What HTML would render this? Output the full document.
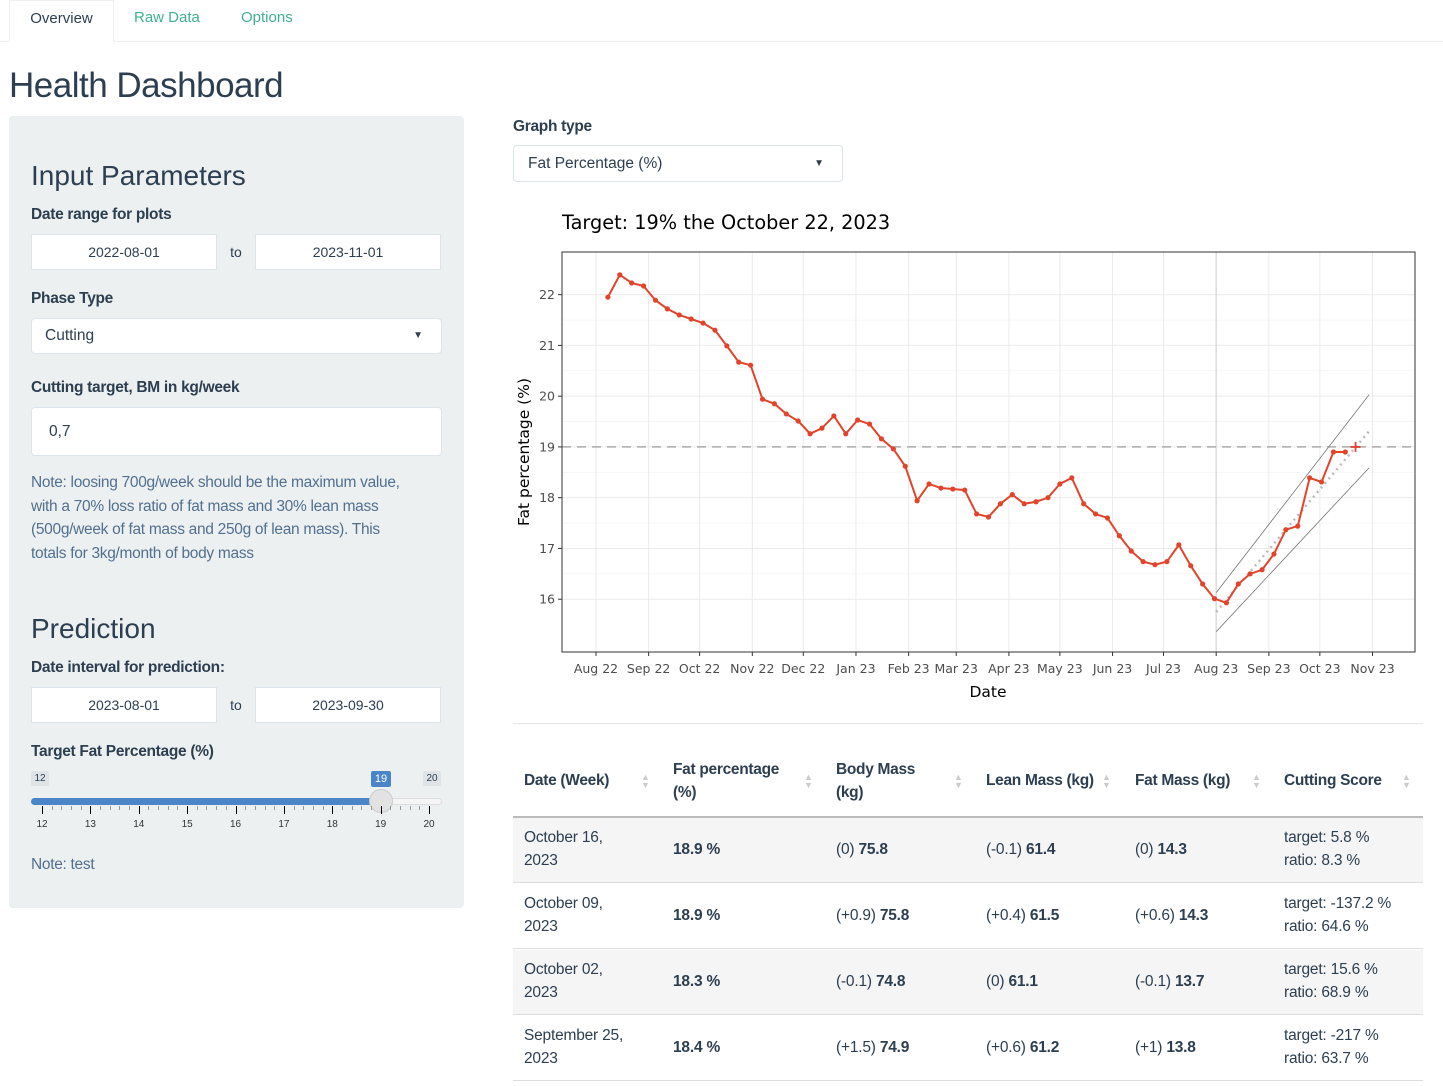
<!DOCTYPE html>
<html><head><meta charset="utf-8"><style>
*{box-sizing:border-box;margin:0;padding:0}
body{width:1443px;height:1086px;overflow:hidden;background:#fff;font-family:"Liberation Sans",sans-serif;color:#2c3e50;position:relative}
.a{position:absolute}
.tab{position:absolute;top:0;height:42px;line-height:36px;font-size:15px;color:#3fb28f}
.lbl{position:absolute;font-weight:bold;font-size:15.5px;color:#2c3e50;letter-spacing:-0.3px}
.inp{position:absolute;background:#fff;border:1px solid #dce4ec;font-size:14px;text-align:center;color:#2c3e50}
.note{position:absolute;font-size:15.5px;color:#52708f;line-height:23.6px;letter-spacing:-0.3px;white-space:nowrap}
.h3{position:absolute;font-size:28px;color:#2c3e50}
.th{position:absolute;font-weight:bold;font-size:15.5px;line-height:23px;letter-spacing:-0.3px}
.td{position:absolute;font-size:15.5px;line-height:23px;letter-spacing:-0.2px}
.sort{position:absolute;color:#ccc;font-size:9px;line-height:8px}
</style></head><body>
<div class="a" style="left:0;top:41px;width:1443px;height:1px;background:#ecf0f1"></div>
<div class="tab" style="left:9px;width:105px;height:42px;background:#fff;border:1px solid #ecf0f1;border-bottom:none;color:#2c3e50;text-align:center">Overview</div>
<div class="tab" style="left:134px">Raw Data</div>
<div class="tab" style="left:241px">Options</div>
<div class="a" style="left:9px;top:66px;font-size:35px;letter-spacing:-0.5px">Health Dashboard</div>

<div class="a" style="left:9px;top:116px;width:455px;height:792px;background:#ecf0f1;border-radius:4px"></div>
<div class="h3" style="left:31px;top:160px">Input Parameters</div>
<div class="lbl" style="left:31px;top:206px">Date range for plots</div>
<div class="inp" style="left:31px;top:234px;width:186px;height:36px;line-height:34px">2022-08-01</div>
<div class="a" style="left:217px;top:234px;width:38px;height:36px;line-height:36px;text-align:center;font-size:14px;background:#ecf0f1">to</div>
<div class="inp" style="left:255px;top:234px;width:186px;height:36px;line-height:34px">2023-11-01</div>
<div class="lbl" style="left:31px;top:290px">Phase Type</div>
<div class="inp" style="left:31px;top:318px;width:411px;height:36px;line-height:34px;text-align:left;padding-left:13px;font-size:15.5px;border-radius:4px">Cutting<span style="position:absolute;right:18px;top:0;font-size:10px">▼</span></div>
<div class="lbl" style="left:31px;top:379px">Cutting target, BM in kg/week</div>
<div class="inp" style="left:31px;top:407px;width:411px;height:49px;line-height:47px;text-align:left;padding-left:17px;font-size:15.5px;border-radius:4px">0,7</div>
<div class="note" style="left:31px;top:471px">Note: loosing 700g/week should be the maximum value,<br>with a 70% loss ratio of fat mass and 30% lean mass<br>(500g/week of fat mass and 250g of lean mass). This<br>totals for 3kg/month of body mass</div>
<div class="h3" style="left:31px;top:613px">Prediction</div>
<div class="lbl" style="left:31px;top:659px">Date interval for prediction:</div>
<div class="inp" style="left:31px;top:687px;width:186px;height:36px;line-height:34px">2023-08-01</div>
<div class="a" style="left:217px;top:687px;width:38px;height:36px;line-height:36px;text-align:center;font-size:14px">to</div>
<div class="inp" style="left:255px;top:687px;width:186px;height:36px;line-height:34px">2023-09-30</div>
<div class="lbl" style="left:31px;top:743px">Target Fat Percentage (%)</div>
<div class="a" style="left:31px;top:771px;width:18px;height:15px;background:#dfe3e6;font-size:10px;text-align:center;line-height:15px;border-radius:2px">12</div>
<div class="a" style="left:423px;top:771px;width:18px;height:15px;background:#dfe3e6;font-size:10px;text-align:center;line-height:15px;border-radius:2px">20</div>
<div class="a" style="left:371px;top:771px;width:20px;height:16px;background:#4a86c7;color:#fff;font-size:11px;text-align:center;line-height:16px;border-radius:2px">19</div>
<div class="a" style="left:31px;top:798px;width:411px;height:7px;background:#f5f5f5;border:1px solid #ddd;border-radius:4px"></div>
<div class="a" style="left:31px;top:798px;width:350px;height:7px;background:#4a86c7;border-radius:4px 0 0 4px"></div>
<div class="a" style="left:369px;top:789px;width:24px;height:24px;background:#e2e2e2;border:1px solid #ccc;border-radius:50%"></div>
<div id="sticks"></div>
<div class="note" style="left:31px;top:853px">Note: test</div>

<div class="lbl" style="left:513px;top:118px">Graph type</div>
<div class="inp" style="left:513px;top:145px;width:330px;height:37px;line-height:35px;text-align:left;padding-left:14px;font-size:15.5px;border-radius:4px">Fat Percentage (%)<span style="position:absolute;right:18px;top:0;font-size:10px">▼</span></div>

<svg id="chart" class="a" style="left:0;top:0" width="1443" height="720"></svg>

<div class="a" style="left:513px;top:723px;width:910px;height:1px;background:#e6e6e6"></div>
<div id="table"></div>

<script>
const dates=["2022-08-08"];
const fatPct=[21.95,22.39,22.23,22.17,21.89,21.72,21.60,21.52,21.44,21.30,20.99,20.67,20.61,19.94,19.85,19.65,19.51,19.26,19.37,19.61,19.26,19.53,19.45,19.16,18.96,18.62,17.94,18.27,18.19,18.17,18.15,17.68,17.62,17.88,18.06,17.88,17.92,18.00,18.27,18.39,17.88,17.68,17.60,17.25,16.95,16.74,16.68,16.74,17.07,16.66,16.30,16.01,15.93,16.30,16.50,16.58,16.89,17.37,17.44,18.39,18.31,18.90,18.90];
const targetValue=19;
const targetDate="2023-10-22";
const trendDates=["2023-08-01","2023-10-30"];
const trendUpper=[16.13,20.03];
const trendMid=[15.75,19.31];
const trendLower=[15.36,18.59];
const yTicks=[16,17,18,19,20,21,22];
const xTickDates=["2022-08-01","2022-09-01","2022-10-01","2022-11-01","2022-12-01","2023-01-01","2023-02-01","2023-03-01","2023-04-01","2023-05-01","2023-06-01","2023-07-01","2023-08-01","2023-09-01","2023-10-01","2023-11-01"];
const xTickLabels=["Aug 22","Sep 22","Oct 22","Nov 22","Dec 22","Jan 23","Feb 23","Mar 23","Apr 23","May 23","Jun 23","Jul 23","Aug 23","Sep 23","Oct 23","Nov 23"];

const NS="http://www.w3.org/2000/svg";
const svg=document.getElementById('chart');
const P={l:562,r:1415,t:252,b:652};
const D0=Date.parse("2022-07-12"),D1=Date.parse("2023-11-26");
const Y0=14.96,Y1=22.84;
const xs=d=>P.l+(Date.parse(d)-D0)/(D1-D0)*(P.r-P.l);
const ys=v=>P.b-(v-Y0)/(Y1-Y0)*(P.b-P.t);
function el(t,a,txt){const e=document.createElementNS(NS,t);for(const k in a)e.setAttribute(k,a[k]);if(txt!=null)e.textContent=txt;svg.appendChild(e);return e;}
const allDates=fatPct.map((_,i)=>new Date(Date.parse(dates[0])+i*7*864e5).toISOString().slice(0,10));

let e=el('rect',{x:P.l,y:P.t,width:P.r-P.l,height:P.b-P.t,fill:'#fff'});

for(let i=0;i<yTicks.length-1;i++){const v=(yTicks[i]+yTicks[i+1])/2;el('line',{x1:P.l,x2:P.r,y1:ys(v),y2:ys(v),stroke:'#f2f2f2','stroke-width':0.6});}
yTicks.forEach(v=>{e=el('line',{x1:P.l,x2:P.r,y1:ys(v),y2:ys(v),stroke:'#ebebeb','stroke-width':1});

el('line',{x1:P.l-4,x2:P.l,y1:ys(v),y2:ys(v),stroke:'#333'});
e=el('text',{x:P.l-7,y:ys(v)+4.5,'text-anchor':'end','font-size':12.5,fill:'#4d4d4d','font-family':'DejaVu Sans, sans-serif'},v);
});
xTickDates.forEach((d,i)=>{const x=xs(d);e=el('line',{x1:x,x2:x,y1:P.t,y2:P.b,stroke:'#ebebeb'});

el('line',{x1:x,x2:x,y1:P.b,y2:P.b+4,stroke:'#333'});
e=el('text',{x:x,y:P.b+21,'text-anchor':'middle','font-size':12.5,fill:'#4d4d4d','font-family':'DejaVu Sans, sans-serif'},xTickLabels[i]);
});
e=el('line',{x1:xs("2023-08-01"),x2:xs("2023-08-01"),y1:P.t,y2:P.b,stroke:'#dcdcdc','stroke-width':1.5});

e=el('line',{x1:P.l,x2:P.r,y1:ys(targetValue),y2:ys(targetValue),stroke:'#aaa','stroke-width':1.5,'stroke-dasharray':'9,6'});

[[trendUpper,'trend-upper'],[trendLower,'trend-lower']].forEach(([arr,n])=>{e=el('line',{x1:xs(trendDates[0]),x2:xs(trendDates[1]),y1:ys(arr[0]),y2:ys(arr[1]),stroke:'#777','stroke-width':0.8});
});
e=el('line',{x1:xs(trendDates[0]),x2:xs(trendDates[1]),y1:ys(trendMid[0]),y2:ys(trendMid[1]),stroke:'#bbb','stroke-width':2.5,'stroke-dasharray':'2,4'});

e=el('polyline',{points:fatPct.map((v,i)=>xs(allDates[i])+','+ys(v)).join(' '),fill:'none',stroke:'#e2442b','stroke-width':2});

fatPct.forEach((v,i)=>{e=el('circle',{cx:xs(allDates[i]),cy:ys(v),r:2.6,fill:'#e2442b'});
});
const tx=xs(targetDate),ty=ys(targetValue);
e=el('path',{d:`M${tx-5},${ty}H${tx+5}M${tx},${ty-5}V${ty+5}`,stroke:'#e2442b','stroke-width':1.8});

e=el('rect',{x:P.l,y:P.t,width:P.r-P.l,height:P.b-P.t,fill:'none',stroke:'#333','stroke-width':1});

e=el('text',{x:562,y:229,'font-size':19.3,fill:'#000','font-family':'DejaVu Sans, sans-serif'},'Target: 19% the October 22, 2023');

e=el('text',{x:988,y:697,'text-anchor':'middle','font-size':15.5,fill:'#000','font-family':'DejaVu Sans, sans-serif'},'Date');

e=el('text',{x:0,y:0,transform:`translate(529,452) rotate(-90)`,'text-anchor':'middle','font-size':15.5,fill:'#000','font-family':'DejaVu Sans, sans-serif'},'Fat percentage (%)');


const st=document.getElementById('sticks');
for(let i=0;i<=40;i++){const x=42+i*(429-42)/40;const maj=i%5===0;const d=document.createElement('div');d.className='a';
d.style.cssText=`left:${x}px;top:806px;width:1px;height:${maj?8:4}px;background:${maj?'#000':'#999'}`;
st.appendChild(d);
if(maj){const t=document.createElement('div');t.className='a';t.style.cssText=`left:${x-10}px;top:819px;width:20px;text-align:center;font-size:10px;color:#333`;t.textContent=12+i/5;
st.appendChild(t);}}

const cols=[524,673,836,986,1135,1284];
const heads=[["Date (Week)"],["Fat percentage","(%)"],["Body Mass","(kg)"],["Lean Mass (kg)"],["Fat Mass (kg)"],["Cutting Score"]];
const sortX=[645,808,958,1106,1256,1406];
const rows=[["October 16,|2023","18.9 %","(0) ","75.8","(-0.1) ","61.4","(0) ","14.3","target: 5.8 %|ratio: 8.3 %"],
["October 09,|2023","18.9 %","(+0.9) ","75.8","(+0.4) ","61.5","(+0.6) ","14.3","target: -137.2 %|ratio: 64.6 %"],
["October 02,|2023","18.3 %","(-0.1) ","74.8","(0) ","61.1","(-0.1) ","13.7","target: 15.6 %|ratio: 68.9 %"],
["September 25,|2023","18.4 %","(+1.5) ","74.9","(+0.6) ","61.2","(+1) ","13.8","target: -217 %|ratio: 63.7 %"]];
let h='';
heads.forEach((hd,i)=>{const top=hd.length>1?758:769;h+=`<div class="th" style="left:${cols[i]}px;top:${top}px">${hd.join('<br>')}</div>`;
h+=`<div class="sort" style="left:${sortX[i]-4}px;top:773px">▲<br>▼</div>`;});
h+=`<div class="a" style="left:513px;top:816px;width:910px;height:2px;background:#bbb"></div>`;
rows.forEach((r,k)=>{const top=818+k*66;
h+=`<div class="a" style="left:513px;top:${top}px;width:910px;height:65px;background:${k%2===0?'#f5f5f5':'#fff'};border-bottom:1px solid #ddd"></div>`;
const c=top+32;
h+=`<div class="td" style="left:${cols[0]}px;top:${c-24}px">${r[0].replace('|','<br>')}</div>`;
h+=`<div class="td" style="left:${cols[1]}px;top:${c-12}px;font-weight:bold">${r[1]}</div>`;
h+=`<div class="td" style="left:${cols[2]}px;top:${c-12}px">${r[2]}<b>${r[3]}</b></div>`;
h+=`<div class="td" style="left:${cols[3]}px;top:${c-12}px">${r[4]}<b>${r[5]}</b></div>`;
h+=`<div class="td" style="left:${cols[4]}px;top:${c-12}px">${r[6]}<b>${r[7]}</b></div>`;
h+=`<div class="td" style="left:${cols[5]}px;top:${c-24}px">${r[8].replace('|','<br>')}</div>`;});
document.getElementById('table').innerHTML=h;
</script>
</body></html>
